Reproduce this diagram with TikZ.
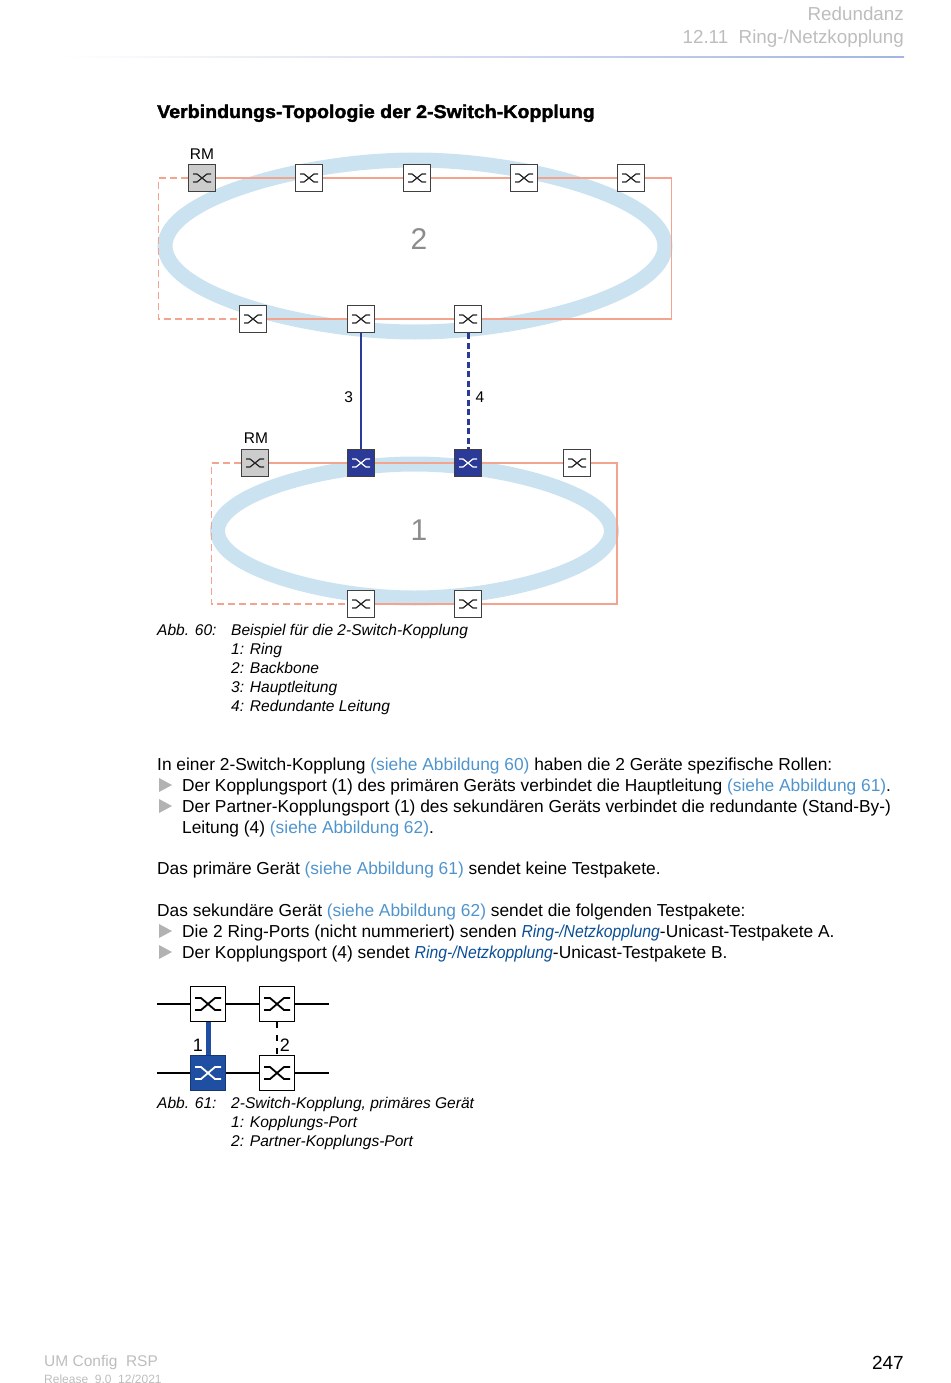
\documentclass[tikz,border=0pt]{standalone}
\usepackage{fontspec}
\usetikzlibrary{positioning}
\setmainfont{Liberation Sans}
\newfontfamily\titlefont[UprightFont=* Bold,FakeStretch=1.06,FakeBold=2]{Liberation Sans}
\definecolor{ringblue}{HTML}{CBE2F1}
\definecolor{linkred}{HTML}{F2A48F}
\definecolor{navy}{HTML}{2B3A96}
\definecolor{royal}{HTML}{1F4FA3}
\definecolor{refblue}{HTML}{4F94CD}
\definecolor{netblue}{HTML}{0B4E96}
\definecolor{softgray}{HTML}{BDBDBD}
\definecolor{rulelav}{HTML}{A3B5E0}
\newcommand{\reflink}[1]{\textcolor{refblue}{#1}}
\newcommand{\netlink}{\textcolor{netblue}{\scalebox{.908}[1]{\itshape Ring-/Netzkopplung}}}
\tikzset{
  switchbox/.style={draw=black!75,line width=1.5pt,fill=#1,minimum size=27pt,inner sep=0pt,
    path picture={\draw[black!85,line width=1.2pt]
      ([xshift=-9pt,yshift=-4pt]path picture bounding box.center) -- ++(4,0) -- ++(10,-8) -- ++(4,0)
      ([xshift=-9pt,yshift=4pt]path picture bounding box.center) -- ++(4,0) -- ++(10,8) -- ++(4,0);}},
  switchbox/.default=white,
  darkbox/.style={draw=black!75,line width=1.5pt,fill=#1,minimum size=27pt,inner sep=0pt,
    path picture={\draw[white,line width=1.2pt]
      ([xshift=-9pt,yshift=-4pt]path picture bounding box.center) -- ++(4,0) -- ++(10,-8) -- ++(4,0)
      ([xshift=-9pt,yshift=4pt]path picture bounding box.center) -- ++(4,0) -- ++(10,8) -- ++(4,0);}},
  bigbox/.style={draw=black,line width=1.8pt,fill=white,minimum size=35pt,inner sep=0pt,
    path picture={\draw[black,line width=1.8pt]
      ([xshift=-13pt,yshift=-6pt]path picture bounding box.center) -- ++(6,0) -- ++(14,-12) -- ++(6,0)
      ([xshift=-13pt,yshift=6pt]path picture bounding box.center) -- ++(6,0) -- ++(14,12) -- ++(6,0);}},
  bigdark/.style={draw=royal!70!black,line width=1.8pt,fill=royal,minimum size=35pt,inner sep=0pt,
    path picture={\draw[white,line width=1.8pt]
      ([xshift=-13pt,yshift=-6pt]path picture bounding box.center) -- ++(6,0) -- ++(14,-12) -- ++(6,0)
      ([xshift=-13pt,yshift=6pt]path picture bounding box.center) -- ++(6,0) -- ++(14,12) -- ++(6,0);}},
  ringlink/.style={linkred,line width=1.3pt},
  ringdash/.style={ringlink,dash pattern=on 7pt off 4pt},
  ringband/.style={draw=ringblue,line width=15pt},
  bodytext/.style={anchor=base west,inner sep=0pt,font=\fontsize{17.35}{20}\selectfont},
  captext/.style={anchor=base west,inner sep=0pt,font=\fontsize{15.55}{19}\selectfont\itshape},
  smalltext/.style={inner sep=0pt,font=\fontsize{15.5}{18}\selectfont}
}
\begin{document}
\begin{tikzpicture}[x=1pt,y=-1pt]
\useasboundingbox (0,0) rectangle (950,1383);
% header
\node[anchor=base east,inner sep=0pt,softgray,font=\fontsize{18.8}{24}\selectfont] (chapter) at (904,20.5) {Redundanz};
\node[anchor=base east,inner sep=0pt,softgray,font=\fontsize{18.8}{24}\selectfont] (section) at (904,43.5) {12.11\ \ Ring-/Netzkopplung};
\shade[left color=white,right color=rulelav] (60,56.5) rectangle (904,58);
\node[bodytext,font=\fontsize{18.5}{22}\titlefont] (title) at (157,118) {Verbindungs-Topologie der 2-Switch-Kopplung};
% rings
\draw[ringband] (165,246) .. controls (165,198.7) and (302.5,160) .. (415,160)
  .. controls (527.5,160) and (665,198.7) .. (665,246)
  .. controls (665,293.3) and (527.5,332) .. (415,332)
  .. controls (302.5,332) and (165,293.3) .. (165,246) -- cycle;
\draw[ringband] (217.5,531) .. controls (217.5,494.15) and (325.85,464) .. (414.5,464)
  .. controls (503.15,464) and (611.5,494.15) .. (611.5,531)
  .. controls (611.5,567.85) and (503.15,598) .. (414.5,598)
  .. controls (325.85,598) and (217.5,567.85) .. (217.5,531) -- cycle;
\node[font=\fontsize{30}{30}\selectfont,black!45] (ringtwo) at (419,239) {2};
\node[font=\fontsize{30}{30}\selectfont,black!45] (ringone) at (419,530) {1};
% upper ring
\node[switchbox=black!20] (a1) at (202,178) {};
\node[switchbox] (a2) at (309,178) {};
\node[switchbox] (a3) at (417,178) {};
\node[switchbox] (a4) at (524,178) {};
\node[switchbox] (a5) at (631,178) {};
\node[switchbox] (a6) at (468,319) {};
\node[switchbox] (a7) at (361,319) {};
\node[switchbox] (a8) at (253,319) {};
\node[smalltext,above=4pt of a1] (rmtop) {RM};
% lower ring
\node[switchbox=black!20] (b1) at (255,463) {};
\node[darkbox=navy] (b2) at (361,463) {};
\node[darkbox=navy] (b3) at (468,463) {};
\node[switchbox] (b4) at (577,463) {};
\node[switchbox] (b5) at (468,604) {};
\node[switchbox] (b6) at (361,604) {};
\node[smalltext,above=5pt of b1,xshift=1pt] (rmlow) {RM};
\coordinate (ane) at (671.5,178);
\coordinate (anw) at (158.5,178);
\coordinate (bne) at (617,463);
\coordinate (bnw) at (211.5,463);
% links
\foreach \p/\q in {a1/a2,a2/a3,a3/a4,a4/a5,a6/a7,a7/a8,b1/b2,b2/b3,b3/b4,b5/b6}
  \draw[ringlink] (\p) -- (\q);
\draw[ringlink] (a5) -- (ane) |- (a6);
\draw[ringlink] (b4) -- (bne) |- (b5);
\draw[ringdash] (a1) -- (anw) |- (a8);
\draw[ringdash] (b1) -- (bnw) |- (b6);
% coupling
\draw[navy,line width=2pt] (a7) -- node[left=7pt,yshift=-6.5pt,smalltext,black] (lblthree) {3} (b2);
\draw[navy,line width=3pt,dash pattern=on 6pt off 3.5pt] (a6) -- node[right=6pt,yshift=-6.5pt,smalltext,black] (lblfour) {4} (b3);
% caption 60
\node[captext] (cap60) at (157,635) {Abb. 60:};
\node[captext] (cap60a) at (231,635) {Beispiel für die 2-Switch-Kopplung};
\node[captext] (cap60b) at (231,654) {1: Ring};
\node[captext] (cap60c) at (231,673) {2: Backbone};
\node[captext] (cap60d) at (231,692) {3: Hauptleitung};
\node[captext] (cap60e) at (231,711) {4: Redundante Leitung};
% body
\node[bodytext] (t1) at (157,770) {In einer 2-Switch-Kopplung \reflink{(siehe Abbildung 60)} haben die 2 Geräte spezifische Rollen:};
\node[bodytext] (t2) at (182,791) {Der Kopplungsport (1) des primären Geräts verbindet die Hauptleitung \reflink{(siehe Abbildung 61)}.};
\node[bodytext] (t3) at (182,812) {Der Partner-Kopplungsport (1) des sekundären Geräts verbindet die redundante (Stand-By-)};
\node[bodytext] (t4) at (182,833) {Leitung (4) \reflink{(siehe Abbildung 62)}.};
\node[bodytext] (t5) at (157,874) {Das primäre Gerät \reflink{(siehe Abbildung 61)} sendet keine Testpakete.};
\node[bodytext] (t6) at (157,916) {Das sekundäre Gerät \reflink{(siehe Abbildung 62)} sendet die folgenden Testpakete:};
\node[bodytext] (t7) at (182,937) {Die 2 Ring-Ports (nicht nummeriert) senden \netlink-Unicast-Testpakete A.};
\node[bodytext] (t8) at (182,958) {Der Kopplungsport (4) sendet \netlink-Unicast-Testpakete B.};
\foreach \y in {785,806,931,952}
  \fill[black!30] (159,\y-7) -- (172,\y) -- (159,\y+7) -- cycle;
% second figure
\node[bigbox] (c1) at (208,1004) {};
\node[bigbox] (c2) at (277,1004) {};
\node[bigdark] (c3) at (208,1073) {};
\node[bigbox] (c4) at (277,1073) {};
\coordinate (c1w) at (157,1004);
\coordinate (c2e) at (329,1004);
\coordinate (c3w) at (157,1073);
\coordinate (c4e) at (329,1073);
\foreach \p/\q in {c1w/c1,c1/c2,c2/c2e,c3w/c3,c3/c4,c4/c4e}
  \draw[black,line width=1.6pt] (\p) -- (\q);
\draw[royal,line width=5pt] (c1) -- (c3);
\draw[black,line width=1.6pt,dash pattern=on 6pt off 7pt] (c2) -- (c4);
\node[font=\fontsize{18}{20}\selectfont,inner sep=0pt] (lblone) at (198,1045) {1};
\node[font=\fontsize{18}{20}\selectfont,inner sep=0pt] (lbltwo) at (285,1045) {2};
% caption 61
\node[captext] (cap61) at (157,1108) {Abb. 61:};
\node[captext] (cap61a) at (231,1108) {2-Switch-Kopplung, primäres Gerät};
\node[captext] (cap61b) at (231,1127) {1: Kopplungs-Port};
\node[captext] (cap61c) at (231,1146) {2: Partner-Kopplungs-Port};
% footer
\node[anchor=base west,inner sep=0pt,softgray,font=\fontsize{15.5}{19}\selectfont] (manual) at (44,1366) {UM Config\ \ RSP};
\node[anchor=base west,inner sep=0pt,softgray,font=\fontsize{12}{14}\selectfont] (release) at (44,1383) {Release\ \ 9.0\ \ 12/2021};
\node[anchor=base east,inner sep=0pt,font=\fontsize{19}{24}\selectfont] (pagenum) at (904,1369) {247};
\end{tikzpicture}
\end{document}
